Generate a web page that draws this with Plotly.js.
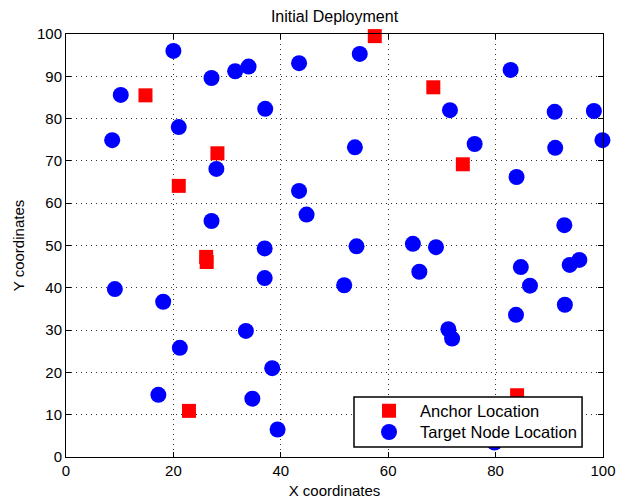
<!DOCTYPE html>
<html>
<head>
<meta charset="utf-8">
<script src="https://cdn.plot.ly/plotly-3.0.1.min.js"></script>
<style>html,body{margin:0;padding:0;background:#fff}#chart{width:618px;height:502px}</style>
</head>
<body>
<div id="chart"></div>
<script>
// Anchor locations
const anchorX = [14.8, 28.2, 21.0, 57.5, 68.4, 73.9, 26.1, 26.2, 22.9, 84.0];
const anchorY = [85.5, 71.8, 64.1, 99.5, 87.4, 69.2, 47.3, 46.1, 10.9, 14.6];

// Target node locations
const targetX = [20.0, 10.2, 8.6, 21.0, 27.1, 31.5, 34.0, 37.1, 28.0, 43.4,
                 43.4, 44.8, 27.1, 37.0, 54.7, 82.8, 71.5, 91.0, 98.3, 53.8,
                 76.1, 91.1, 99.9, 83.9, 92.8, 54.1, 64.6, 68.9, 37.0, 9.1,
                 18.1, 33.5, 21.2, 38.4, 17.2, 34.7, 39.4, 65.8, 51.8, 84.7,
                 86.4, 93.8, 95.6, 92.9, 83.8, 71.2, 71.9, 79.8];
const targetY = [96.0, 85.6, 74.9, 78.0, 89.6, 91.2, 92.3, 82.3, 68.1, 93.1,
                 62.9, 57.3, 55.8, 49.3, 95.3, 91.5, 82.0, 81.6, 81.8, 73.2,
                 74.0, 73.1, 74.9, 66.2, 54.8, 49.8, 50.4, 49.6, 42.3, 39.7,
                 36.7, 29.8, 25.8, 21.0, 14.7, 13.8, 6.5, 43.8, 40.6, 44.9,
                 40.5, 45.4, 46.6, 36.0, 33.6, 30.2, 28.0, 3.4];

const xTicks = [0, 20, 40, 60, 80, 100];
const yTicks = [0, 10, 20, 30, 40, 50, 60, 70, 80, 90, 100];

const font = "'Liberation Sans', Arial, Helvetica, sans-serif";

const data = [
  {
    x: anchorX, y: anchorY, type: 'scatter', mode: 'markers',
    name: 'Anchor Location', legend: 'legend',
    marker: {symbol: 'square', size: 14, color: '#ff0000'},
    cliponaxis: false
  },
  {
    x: targetX, y: targetY, type: 'scatter', mode: 'markers',
    name: 'Target Node Location', legend: 'legend2',
    marker: {symbol: 'circle', size: 16, color: '#0000ff'},
    cliponaxis: false
  }
];

const axisCommon = {
  showline: true, linecolor: '#000', linewidth: 1, mirror: 'ticks',
  ticks: 'inside', ticklen: 5, tickcolor: '#000',
  showgrid: true, gridcolor: '#333', griddash: '1px,4px', gridwidth: 1,
  zeroline: false, tickfont: {family: font, size: 15, color: '#000'}
};

const legendCommon = {
  xanchor: 'left', yanchor: 'middle',
  bgcolor: 'rgba(0,0,0,0)', borderwidth: 0,
  font: {family: font, size: 16.5, color: '#000'},
  itemwidth: 52
};

const layout = {
  width: 618, height: 502,
  margin: {l: 66, r: 15, t: 34, b: 45},
  paper_bgcolor: '#fff', plot_bgcolor: '#fff',
  font: {family: font, color: '#000'},
  title: {text: 'Initial Deployment', font: {family: font, size: 16, color: '#000'},
          xref: 'paper', x: 0.5, xanchor: 'center', y: 0.968, yanchor: 'middle'},
  xaxis: Object.assign({}, axisCommon, {
    range: [0, 100], tickvals: xTicks, ticktext: xTicks.map(String),
    title: {text: 'X coordinates', font: {family: font, size: 15, color: '#000'}, standoff: 7}
  }),
  yaxis: Object.assign({}, axisCommon, {
    range: [0, 100], tickvals: yTicks, ticktext: yTicks.map(String),
    title: {text: 'Y coordinates', font: {family: font, size: 15, color: '#000'}, standoff: 8}
  }),
  shapes: [{
    type: 'rect', xref: 'paper', yref: 'paper', layer: 'above',
    x0: 0.5363, x1: 0.961, y0: 0.0236, y1: 0.1418,
    fillcolor: '#ffffff', line: {color: '#000', width: 1.5}
  }],
  showlegend: true,
  legend: Object.assign({}, legendCommon, {x: 0.5438, y: 0.1087}),
  legend2: Object.assign({}, legendCommon, {x: 0.5438, y: 0.0584})
};

Plotly.newPlot('chart', data, layout, {displayModeBar: false, staticPlot: true});
</script>
</body>
</html>
